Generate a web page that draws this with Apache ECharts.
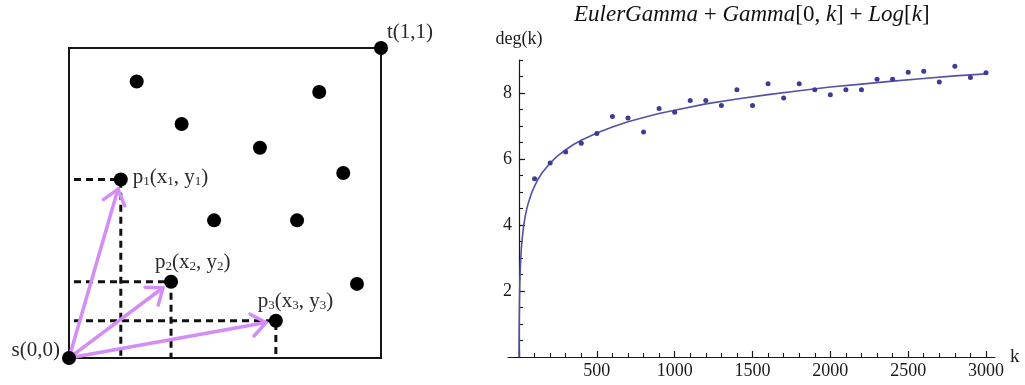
<!DOCTYPE html>
<html>
<head>
<meta charset="utf-8">
<script src="https://cdn.jsdelivr.net/npm/echarts@6/dist/echarts.min.js"></script>
<style>
html,body{margin:0;padding:0;background:#fff;}
#chart{width:1025px;height:385px;}
</style>
</head>
<body>
<div id="chart"></div>
<script>
// ---------- Left panel data (unit square coordinates) ----------
const leftDots = [[0.217,0.892],[0.802,0.858],[0.361,0.755],[0.612,0.678],[0.879,0.597],[0.465,0.444],[0.731,0.444],[0.923,0.239]];
const labeledPts = [[0.166,0.576],[0.327,0.246],[0.663,0.120]];
const labeledIdx = ['1','2','3'];
const cornerPts = [[0,0],[1,1]];
const cornerNames = ['s(0,0)','t(1,1)'];

// ---------- Right panel data ----------
const kValues = [100,200,300,400,500,600,700,800,900,1000,1100,1200,1300,1400,1500,1600,1700,1800,1900,2000,2100,2200,2300,2400,2500,2600,2700,2800,2900,3000];
const degValues = [5.40,5.88,6.21,6.48,6.77,7.29,7.24,6.82,7.53,7.42,7.77,7.77,7.62,8.10,7.62,8.28,7.85,8.28,8.10,7.95,8.10,8.10,8.42,8.42,8.63,8.66,8.33,8.81,8.47,8.61];
const curveK = [0,1,2,3,5,7,10,15,20,30,40,50,60,80,100,125,150,200,250,300,350,400,500,600,700,800,900,1000,1200,1400,1600,1800,2000,2200,2400,2600,2800,3000];
const curveV = [0,0.80,1.32,1.69,2.19,2.52,2.88,3.29,3.57,3.98,4.27,4.49,4.67,4.96,5.18,5.41,5.59,5.88,6.10,6.28,6.44,6.57,6.79,6.97,7.13,7.26,7.38,7.48,7.67,7.82,7.95,8.07,8.18,8.27,8.36,8.44,8.52,8.58];
const xMajorTicks = [500,1000,1500,2000,2500,3000];
const yMajorTicks = [2,4,6,8];
const titleText = '{i|EulerGamma} + {i|Gamma}[0, {i|k}] + {i|Log}[{i|k}]';

// ---------- Styles / layout ----------
const SERIF = "'Liberation Serif','DejaVu Serif','Times New Roman',serif";
const ARROW = '#d48cf6';
const BLUE_DOT = '#3c3c98';
const BLUE_LINE = '#5252a8';
const INK = '#1a1a1a';
const labelLayouts = [
  {align:'left', offset:[12,-2]},
  {align:'left', offset:[-16,-19]},
  {align:'left', offset:[-18,-19]}
];
const cornerLayouts = [
  {align:'right', offset:[-9,-8]},
  {align:'left', offset:[6,-16]}
];
const richP = {
  n:{fontSize:21, fontFamily:SERIF, color:'#2a2a2a'},
  s:{fontSize:13, fontFamily:SERIF, color:'#2a2a2a', verticalAlign:'bottom'}
};
const plainNum = v => String(v);

const chart = echarts.init(document.getElementById('chart'), null, {renderer:'canvas'});

const dashedSeries = labeledPts.map(p => ({
  type:'line', xAxisIndex:0, yAxisIndex:0,
  data:[[0,p[1]],[p[0],p[1]],[p[0],0]],
  showSymbol:false, symbol:'none', silent:true,
  lineStyle:{color:'#111', width:3, type:[7,5], dashOffset:7},
  z:2
}));

const option = {
  animation:false,
  backgroundColor:'#fff',
  title:{
    text:titleText,
    left:574, top:3, padding:0,
    textStyle:{fontFamily:SERIF, fontSize:23, fontWeight:'normal', color:'#111',
      rich:{i:{fontFamily:SERIF, fontSize:23, fontStyle:'italic', color:'#111'}}}
  },
  grid:[
    {left:69, top:48, width:312, height:310, show:true, borderColor:'#151515', borderWidth:2, backgroundColor:'transparent'},
    {left:519, right:39, top:60, bottom:28},
    {left:508, right:30, top:60, bottom:28}
  ],
  xAxis:[
    {type:'value', gridIndex:0, min:0, max:1, show:false},
    {type:'value', gridIndex:1, min:0, max:3000, interval:500, position:'bottom',
      axisLine:{show:false},
      axisTick:{show:true, inside:true, length:6, lineStyle:{color:INK, width:1.2}},
      minorTick:{show:true, splitNumber:5, length:4, lineStyle:{color:INK, width:1.1}},
      axisLabel:{show:true, margin:5, fontFamily:SERIF, fontSize:18, color:INK, formatter:plainNum, showMinLabel:false, showMaxLabel:true},
      splitLine:{show:false}, minorSplitLine:{show:false}
    },
    {type:'value', gridIndex:2, min:-70, max:3060, position:'bottom',
      axisLine:{show:true, onZero:false, lineStyle:{color:INK, width:1.2}},
      axisTick:{show:false}, axisLabel:{show:false}, splitLine:{show:false},
      name:'k', nameLocation:'end', nameGap:15,
      nameTextStyle:{fontFamily:SERIF, fontSize:19, color:INK, verticalAlign:'middle', align:'left'}
    }
  ],
  yAxis:[
    {type:'value', gridIndex:0, min:0, max:1, show:false},
    {type:'value', gridIndex:1, min:0, max:9, interval:2, position:'left',
      axisLine:{show:true, onZero:false, lineStyle:{color:INK, width:1.2}},
      axisTick:{show:true, inside:true, length:6, lineStyle:{color:INK, width:1.2}},
      axisLabel:{show:true, margin:7, fontFamily:SERIF, fontSize:18, color:INK, formatter:plainNum, showMinLabel:false, showMaxLabel:false},
      splitLine:{show:false},
      name:'deg(k)', nameLocation:'end', nameGap:21,
      nameTextStyle:{fontFamily:SERIF, fontSize:18, color:INK, align:'center', verticalAlign:'middle'}
    },
    {type:'value', gridIndex:1, min:0, max:9, interval:0.5, position:'left',
      axisLine:{show:false, onZero:false},
      axisTick:{show:true, inside:true, length:4, lineStyle:{color:INK, width:1.1}},
      axisLabel:{show:false}, splitLine:{show:false}
    },
    {type:'value', gridIndex:2, min:0, max:9, show:false}
  ],
  series:[
    ...dashedSeries,
    {
      type:'custom', xAxisIndex:0, yAxisIndex:0, z:3, silent:true,
      data:labeledPts,
      renderItem:function(params, api){
        const p = api.coord([api.value(0), api.value(1)]);
        const o = api.coord([0,0]);
        const dx = p[0]-o[0], dy = p[1]-o[1];
        const L = Math.sqrt(dx*dx+dy*dy);
        const ux = dx/L, uy = dy/L;
        const tip = [p[0]-ux*10, p[1]-uy*10];
        const back = Math.atan2(-uy, -ux);
        const a = 38*Math.PI/180, h = 18;
        const a1 = [tip[0]+h*Math.cos(back+a), tip[1]+h*Math.sin(back+a)];
        const a2 = [tip[0]+h*Math.cos(back-a), tip[1]+h*Math.sin(back-a)];
        const st = {stroke:ARROW, lineWidth:3.5, lineCap:'round', lineJoin:'round', fill:null};
        return {type:'group', children:[
          {type:'line', shape:{x1:o[0]+ux*4, y1:o[1]+uy*4, x2:tip[0], y2:tip[1]}, style:st},
          {type:'polyline', shape:{points:[a1, tip, a2]}, style:st}
        ]};
      }
    },
    {
      type:'scatter', xAxisIndex:0, yAxisIndex:0, z:4, silent:true,
      symbol:'circle', symbolSize:14, itemStyle:{color:'#000', opacity:1},
      data:leftDots
    },
    {
      type:'scatter', xAxisIndex:0, yAxisIndex:0, z:4, silent:true,
      symbol:'circle', symbolSize:14, itemStyle:{color:'#000', opacity:1},
      data:labeledPts.map((v,i)=>({
        value:v,
        label:Object.assign({
          show:true, position:'inside', verticalAlign:'middle',
          fontFamily:SERIF, fontSize:21, color:'#2a2a2a',
          formatter:'{n|p}{s|'+labeledIdx[i]+'}{n|(x}{s|'+labeledIdx[i]+'}{n|, y}{s|'+labeledIdx[i]+'}{n|)}',
          rich:richP
        }, labelLayouts[i])
      }))
    },
    {
      type:'scatter', xAxisIndex:0, yAxisIndex:0, z:4, silent:true,
      symbol:'circle', symbolSize:14, itemStyle:{color:'#000', opacity:1},
      data:cornerPts.map((v,i)=>({
        value:v,
        label:Object.assign({
          show:true, position:'inside', verticalAlign:'middle',
          fontFamily:SERIF, fontSize:21, color:'#2a2a2a',
          formatter:cornerNames[i]
        }, cornerLayouts[i])
      }))
    },
    {
      type:'line', xAxisIndex:1, yAxisIndex:1, z:3, silent:true,
      data:curveK.map((k,i)=>[k, curveV[i]]),
      showSymbol:false, symbol:'none', smooth:false,
      lineStyle:{color:BLUE_LINE, width:1.6}
    },
    {
      type:'scatter', xAxisIndex:1, yAxisIndex:1, z:4, silent:true,
      symbol:'circle', symbolSize:5, itemStyle:{color:BLUE_DOT, opacity:1},
      data:kValues.map((k,i)=>[k, degValues[i]])
    }
  ]
};
chart.setOption(option);
</script>
</body>
</html>
